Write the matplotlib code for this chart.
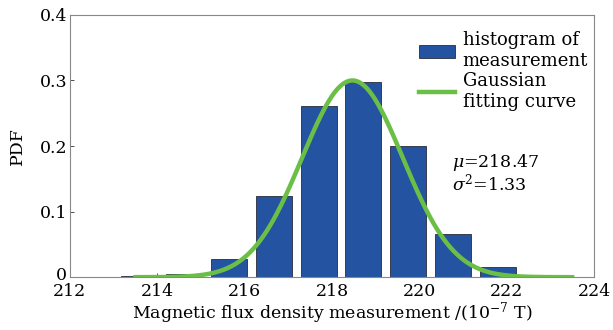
import numpy as np
import matplotlib
matplotlib.use("Agg")
import matplotlib.pyplot as plt
from matplotlib.transforms import ScaledTranslation

# Histogram data (bin centres and PDF values)
bin_centers = [213.58, 214.61, 215.64, 216.67, 217.70, 218.72, 219.75, 220.78, 221.81]
pdf_values = [0.0015, 0.0056, 0.027, 0.124, 0.261, 0.297, 0.200, 0.066, 0.016]
bin_width = 1.029

# Gaussian fit parameters
mu = 218.47
sigma2 = 1.33
curve_peak = 0.30
curve_range = [213.5, 223.5]

xticks = [212, 214, 216, 218, 220, 222, 224]
yticks = [0, 0.1, 0.2, 0.3, 0.4]
ytick_labels = ["0", "0.1", "0.2", "0.3", "0.4"]

plt.rcParams['font.family'] = ['DejaVu Serif']
plt.rcParams['mathtext.fontset'] = 'dejavuserif'

fig = plt.figure(figsize=(6.13, 3.30), dpi=100)
ax = fig.add_axes([0.114, 0.16, 0.855, 0.795])

bar_color = '#2353A1'
green = '#6BBF47'

bars = ax.bar(bin_centers, pdf_values, width=bin_width * 0.8, color=bar_color,
              edgecolor='#2b2b3a', linewidth=0.6, label='histogram of\nmeasurement', zorder=2)

xs = np.linspace(curve_range[0], curve_range[1], 400)
ys = curve_peak * np.exp(-(xs - mu) ** 2 / (2 * sigma2))
line, = ax.plot(xs, ys, color=green, linewidth=3.2, label='Gaussian\nfitting curve', zorder=3)

ax.set_xlim(212, 224)
ax.set_ylim(0, 0.4)
ax.set_xticks(xticks)
ax.set_yticks(yticks)
ax.set_yticklabels(ytick_labels)
ax.tick_params(direction='in', length=3, width=0.6, labelsize=12.5, colors='#333333',
               labelcolor='black')
ax.tick_params(axis='x', pad=4.5)
ax.tick_params(axis='y', pad=2)
for s in ax.spines.values():
    s.set_color('#888888')
    s.set_linewidth(0.8)

# nudge the "0" y tick label up slightly so it sits just above "212"
zero_lbl = ax.get_yticklabels()[0]
zero_lbl.set_transform(zero_lbl.get_transform() + ScaledTranslation(0, 3 / 72, fig.dpi_scale_trans))

ax.set_xlabel(r'Magnetic flux density measurement /(10$^{-7}$ T)', fontsize=12.5, labelpad=0)
ax.set_ylabel('PDF', fontsize=12.5, labelpad=10)

ax.text(220.75, 0.126, r'$\mu$=218.47' + '\n' + r'$\sigma^2$=1.33', fontsize=12.5,
        linespacing=1.0, va='bottom', ha='left')

leg = ax.legend([bars, line], ['histogram of\nmeasurement', 'Gaussian\nfitting curve'],
                loc='upper left', frameon=False, fontsize=13, handlelength=2.0,
                handletextpad=0.4, labelspacing=0.1, borderaxespad=0.0,
                bbox_to_anchor=(0.653, 0.965))

fig.savefig('out.png', dpi=100)
